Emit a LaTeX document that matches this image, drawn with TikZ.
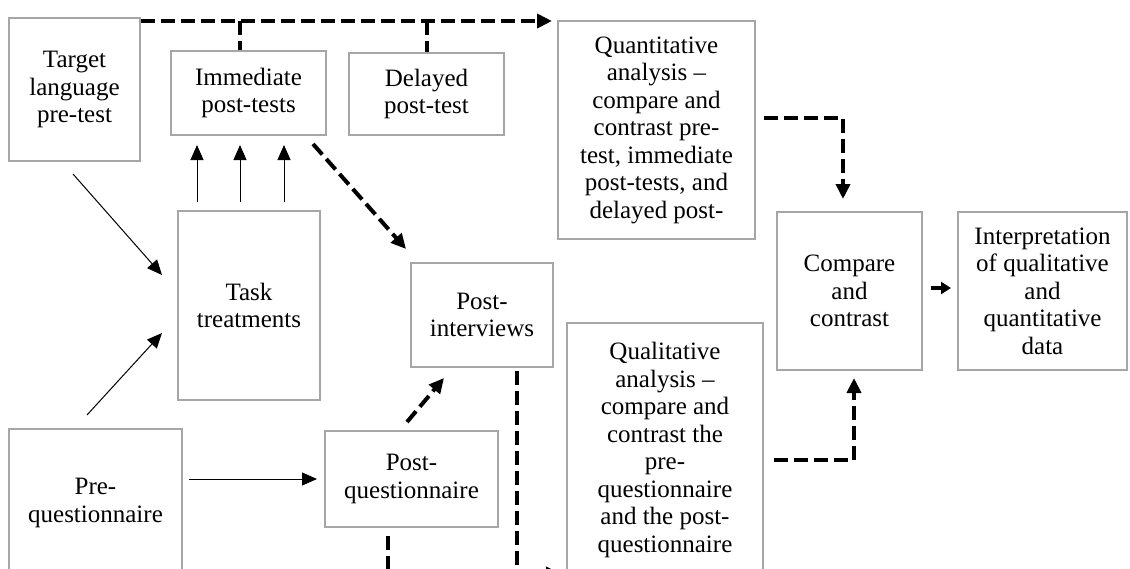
\documentclass[tikz,border=0pt]{standalone}
\usepackage{fontspec}
\setmainfont{Liberation Serif}
\usetikzlibrary{arrows.meta,calc}
\definecolor{boxgray}{HTML}{A6A6A6}
\begin{document}
\begin{tikzpicture}[x=1pt,y=-1pt,
  box/.style={draw=boxgray, line width=2pt, rectangle, inner sep=0pt, align=center,
    font=\fontsize{25}{27.5}\selectfont, text=black},
  dasharrow/.style={line width=4pt, dash pattern=on 14pt off 6pt, -{Triangle[length=15pt,width=14pt]}},
  dashline/.style={line width=4pt, dash pattern=on 14pt off 6pt},
  thinarrow/.style={line width=1pt, -{Triangle[length=15pt,width=13pt]}},
  thickarrow/.style={line width=4pt, -{Triangle[length=10pt,width=12pt]}}
]
\useasboundingbox (0,0) rectangle (1130,568);
\clip (0,0) rectangle (1130,568);

\node[box, minimum width=131pt, minimum height=143pt] (tgt) at (74.5,89.5) {Target\\language\\pre-test};
\node[box, minimum width=155pt, minimum height=84pt] (imm) at (248.5,93) {Immediate\\post-tests};
\node[box, minimum width=155pt, minimum height=82pt] (del) at (426.5,94) {Delayed\\post-test};
\node[box, minimum width=197pt, minimum height=218pt] (quant) at (656.5,130) {Quantitative\\analysis --\\compare and\\contrast pre-\\test, immediate\\post-tests, and\\delayed post-};
\node[box, minimum width=142pt, minimum height=189pt] (task) at (249,305.5) {Task\\treatments};
\node[box, minimum width=142pt, minimum height=104pt] (pint) at (482,315) {Post-\\interviews};
\node[box, minimum width=145pt, minimum height=158pt] (cmp) at (849.5,291) {Compare\\and\\contrast};
\node[box, minimum width=169pt, minimum height=158pt] (interp) at (1042.5,291) {Interpretation\\of qualitative\\and\\quantitative\\data};
\node[box, minimum width=196pt, minimum height=254pt] (qual) at (665,450) {Qualitative\\analysis --\\compare and\\contrast the\\pre-\\questionnaire\\and the post-\\questionnaire};
\node[box, minimum width=173pt, minimum height=148pt] (preq) at (95.5,503) {Pre-\\questionnaire};
\node[box, minimum width=173pt, minimum height=96pt] (postq) at (411.5,479) {Post-\\questionnaire};

% top dashed line and stubs
\coordinate (topline) at ($(tgt.north east)+(0,4)$);
\draw[dasharrow] (topline) -- ($(quant.west |- topline)+(-5,0)$);
\draw[dashline] ($(imm.north |- topline)+(-8.5,0)$) -- ($(imm.north)+(-8.5,0)$);
\draw[dashline] ($(del.north |- topline)+(0.5,0)$) -- ($(del.north)+(0.5,0)$);

% thin arrows
\foreach \dx in {-52,-9,35}
  \draw[thinarrow] ($(task.north)+(\dx,-8)$) -- ($(task.north |- imm.south)+(\dx,9)$);
\draw[thinarrow] ($(tgt.south)+(-1.5,12)$) -- ($(task.west)+(-15,-30.5)$);
\draw[thinarrow] ($(preq.north)+(-8.5,-13)$) -- ($(task.south west)+(-15,-68)$);
\draw[thinarrow] ($(preq.east |- postq.west)+(6,0)$) -- ($(postq.west)+(-7,0)$);

% dashed arrows
\draw[dasharrow] ($(imm.south east)+(-14,8)$) -- ($(pint.north west)+(-4,-13)$);
\draw[dasharrow] ($(postq.north)+(-4.5,-8)$) -- ($(pint.south west)+(34,10)$);
\draw[dasharrow] ($(pint.south east)+(-37,3)$) |- ($(qual.south west)+(-5,-4)$);
\draw[dashline] ($(postq.south)+(-23.5,8)$) -- ++(0,60);
\draw[dasharrow] ($(quant.east)+(8,-12)$) -| ($(cmp.north)+(-6.5,-12)$);
\draw[dasharrow] ($(qual.east)+(10,10)$) -| ($(cmp.south)+(4.5,7)$);

% solid short arrow
\draw[thickarrow] ($(cmp.east)+(8,-3)$) -- ($(interp.west)+(-6,-3)$);
\end{tikzpicture}
\end{document}
